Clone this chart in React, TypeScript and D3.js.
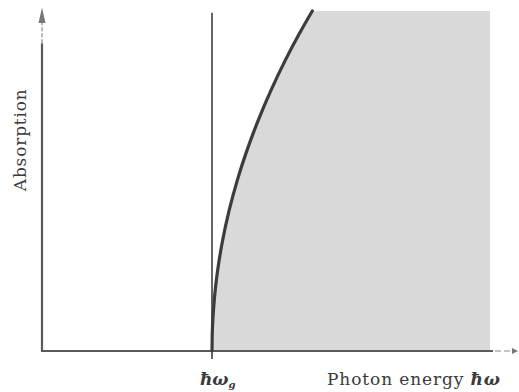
import React from "react";
import * as d3 from "d3";

// Photon energy (units where the band gap ħω_g = 1) and absorption (0..1)
const energy = [1.0, 1.002, 1.005, 1.015, 1.03, 1.06, 1.1, 1.15, 1.2, 1.27, 1.35, 1.43, 1.51, 1.59];
const absorption = [0.0, 0.058, 0.092, 0.159, 0.226, 0.319, 0.412, 0.504, 0.582, 0.676, 0.77, 0.854, 0.93, 1.0];
const gapEnergy = 1.0;
const shadeEnd = 2.635;
const xAxisMax = 2.8;
const yAxisMax = 1.01;
const xLabel = "Photon energy ";
const yLabel = "Absorption";

export default function App() {
  const W = 519, H = 392;
  const x = d3.scaleLinear().domain([0, xAxisMax]).range([42, 518]);
  const y = d3.scaleLinear().domain([0, 1]).range([351, 11]);
  const pts: [number, number][] = energy.map((e, i) => [e, absorption[i]]);
  const line = d3.line<[number, number]>().x(d => x(d[0])).y(d => y(d[1])).curve(d3.curveCatmullRom.alpha(0.5));
  const curvePath = line(pts) || "";
  const shadePath =
    curvePath +
    `L${x(shadeEnd)},${y(1)}L${x(shadeEnd)},${y(0)}L${x(gapEnergy)},${y(0)}Z`;
  const axisColor = "#5a5a5a";
  const serif = "'DejaVu Serif', 'Liberation Serif', serif";
  return (
    <svg width={W} height={H} style={{ position: "absolute", left: 0, top: 0, background: "#fff" }}>
      {/* shaded region */}
      <path d={shadePath} fill="#d9d9d9" />
      {/* y axis */}
      <line x1={x(0)} x2={x(0)} y1={y(0) + 1} y2={y(0.905)} stroke={axisColor} strokeWidth={2.2} />
      <line x1={x(0)} x2={x(0)} y1={y(0.905)} y2={y(0.99)} stroke="#888" strokeWidth={1.2} strokeDasharray="4,2" />
      <path d={`M${x(0) - 3.5},${y(0.965)}L${x(0)},${y(yAxisMax)}L${x(0) + 3.5},${y(0.965)}Z`} fill="#777" />
      {/* x axis */}
      <line x1={x(0) - 1} x2={x(shadeEnd) + 3} y1={y(0)} y2={y(0)} stroke={axisColor} strokeWidth={2} />
      <line x1={x(shadeEnd) + 5} x2={x(xAxisMax) - 4} y1={y(0)} y2={y(0)} stroke="#888" strokeWidth={1.2} strokeDasharray="6,3" />
      <path d={`M${x(xAxisMax) - 6},${y(0) - 3}L${x(xAxisMax)},${y(0)}L${x(xAxisMax) - 6},${y(0) + 3}Z`} fill="#777" />
      {/* band gap vertical line */}
      <line x1={x(gapEnergy)} x2={x(gapEnergy)} y1={y(0.995)} y2={y(0) + 8} stroke="#555" strokeWidth={1.8} />
      {/* absorption curve */}
      <path d={curvePath} fill="none" stroke="#3c3c3c" strokeWidth={3.2} strokeLinecap="round" />
      {/* labels */}
      <text
        transform={`translate(${26},${y(0.62)}) rotate(-90)`}
        textAnchor="middle"
        fontFamily={serif}
        fontSize={17}
        fill="#3a3a3a"
        textLength={102}
      >
        {yLabel}
      </text>
      <text x={x(gapEnergy) - 12} y={385} fontFamily={serif} fontSize={17} fill="#3a3a3a" fontStyle="italic" fontWeight="bold">
        ħω<tspan fontSize={10} dy={3}>g</tspan>
      </text>
      <text x={327} y={385} fontFamily={serif} fontSize={17} fill="#3a3a3a" textLength={173}>
        {xLabel}
        <tspan fontStyle="italic" fontWeight="bold">ħω</tspan>
      </text>
    </svg>
  );
}
